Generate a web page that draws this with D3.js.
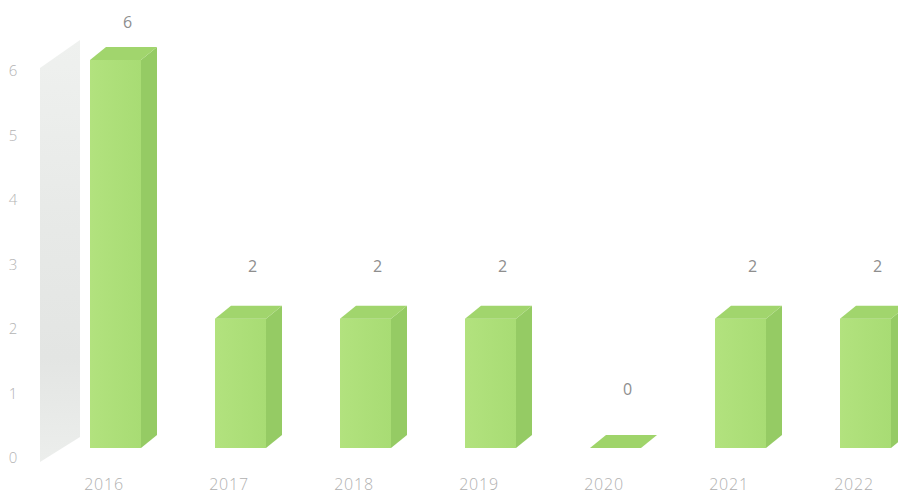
<!DOCTYPE html>
<html>
<head>
<meta charset="utf-8">
<script src="https://cdn.jsdelivr.net/npm/d3@7/dist/d3.min.js"></script>
<style>
  html, body { margin: 0; padding: 0; background: #ffffff; }
  svg { display: block; }
  text { font-family: "Open Sans", "Noto Sans", sans-serif; }
</style>
</head>
<body>
<svg id="chart" width="898" height="494"></svg>
<script>
// Yearly counts
const years = ["2016", "2017", "2018", "2019", "2020", "2021", "2022"];
const counts = [6, 2, 2, 2, 0, 2, 2];
const yTicks = [0, 1, 2, 3, 4, 5, 6];

const W = 898, H = 494;
const svg = d3.select("#chart");

// 3D column geometry: depth offset of the side and top faces
const depthX = 16, depthY = -13;

// Horizontal placement of the columns
const x = d3.scaleBand()
  .domain(years)
  .range([53, 928])
  .paddingInner(0.592)
  .paddingOuter(0.296);

// Value scale for the column fronts
const y = d3.scaleLinear().domain([0, 6]).range([448, 60]);
// Axis scale along the front edge of the side wall
const yAxisScale = d3.scaleLinear().domain([0, 6]).range([458, 71]);
// Data labels sit higher as the value grows (perspective)
const yLabel = d3.scaleLinear().domain([0, 6]).range([389, 22]);

const defs = svg.append("defs");
const wallGrad = defs.append("linearGradient")
  .attr("id", "wallGrad").attr("x1", 0).attr("y1", 0).attr("x2", 0).attr("y2", 1);
wallGrad.append("stop").attr("offset", "0%").attr("stop-color", "#eff1ef");
wallGrad.append("stop").attr("offset", "45%").attr("stop-color", "#e7e9e7");
wallGrad.append("stop").attr("offset", "75%").attr("stop-color", "#e3e5e3");
wallGrad.append("stop").attr("offset", "100%").attr("stop-color", "#eceeec");

const frontGrad = defs.append("linearGradient")
  .attr("id", "frontGrad").attr("x1", 0).attr("y1", 0).attr("x2", 1).attr("y2", 0);
frontGrad.append("stop").attr("offset", "0%").attr("stop-color", "#b2e27e");
frontGrad.append("stop").attr("offset", "100%").attr("stop-color", "#a8dc74");

// Side wall on the left (perspective panel)
const wallFrontX = 40, wallBackX = 80;
const wallTop = yAxisScale(6) - 3, wallBottom = yAxisScale(0) + 4;
svg.append("polygon")
  .attr("points", [
    [wallFrontX, wallTop],
    [wallBackX, wallTop - 28],
    [wallBackX, wallBottom - 25],
    [wallFrontX, wallBottom]
  ].map(p => p.join(",")).join(" "))
  .attr("fill", "url(#wallGrad)");

// Y tick labels
svg.append("g").selectAll("text")
  .data(yTicks)
  .join("text")
  .attr("x", 13)
  .attr("y", d => yAxisScale(d))
  .attr("dy", "0.35em")
  .attr("text-anchor", "middle")
  .attr("font-size", 15)
  .attr("font-weight", 300)
  .attr("fill", "#b4b4b4")
  .text(d => d);

// Columns
const bars = svg.append("g").selectAll("g")
  .data(years.map((yr, i) => ({ year: yr, value: counts[i] })))
  .join("g");

bars.each(function(d) {
  const g = d3.select(this);
  const x0 = x(d.year), w = x.bandwidth();
  const yTop = y(d.value), yBot = y(0);
  if (d.value > 0) {
    // side face
    g.append("polygon")
      .attr("points", [
        [x0 + w, yTop], [x0 + w + depthX, yTop + depthY],
        [x0 + w + depthX, yBot + depthY], [x0 + w, yBot]
      ].map(p => p.join(",")).join(" "))
      .attr("fill", "#95cb64");
    // front face
    g.append("rect")
      .attr("x", x0).attr("y", yTop)
      .attr("width", w).attr("height", yBot - yTop)
      .attr("fill", "url(#frontGrad)");
  }
  // top face
  g.append("polygon")
    .attr("points", [
      [x0, yTop], [x0 + depthX, yTop + depthY],
      [x0 + w + depthX, yTop + depthY], [x0 + w, yTop]
    ].map(p => p.join(",")).join(" "))
    .attr("fill", d.value > 0 ? "#a1d56d" : "#9fd46a");
});

// Value labels
svg.append("g").selectAll("text")
  .data(counts)
  .join("text")
  .attr("x", (d, i) => x(years[i]) + x.bandwidth() / 2 + 12)
  .attr("y", d => yLabel(d))
  .attr("dy", "0.35em")
  .attr("text-anchor", "middle")
  .attr("font-size", 16)
  .attr("fill", "#8e8e8e")
  .text(d => d);

// Category labels
svg.append("g").selectAll("text")
  .data(years)
  .join("text")
  .attr("x", d => x(d) + 14)
  .attr("y", 484)
  .attr("dy", "0.35em")
  .attr("text-anchor", "middle")
  .attr("font-size", 16)
  .attr("font-weight", 300)
  .attr("letter-spacing", "0.8px")
  .attr("fill", "#b0b0b0")
  .text(d => d);
</script>
</body>
</html>
